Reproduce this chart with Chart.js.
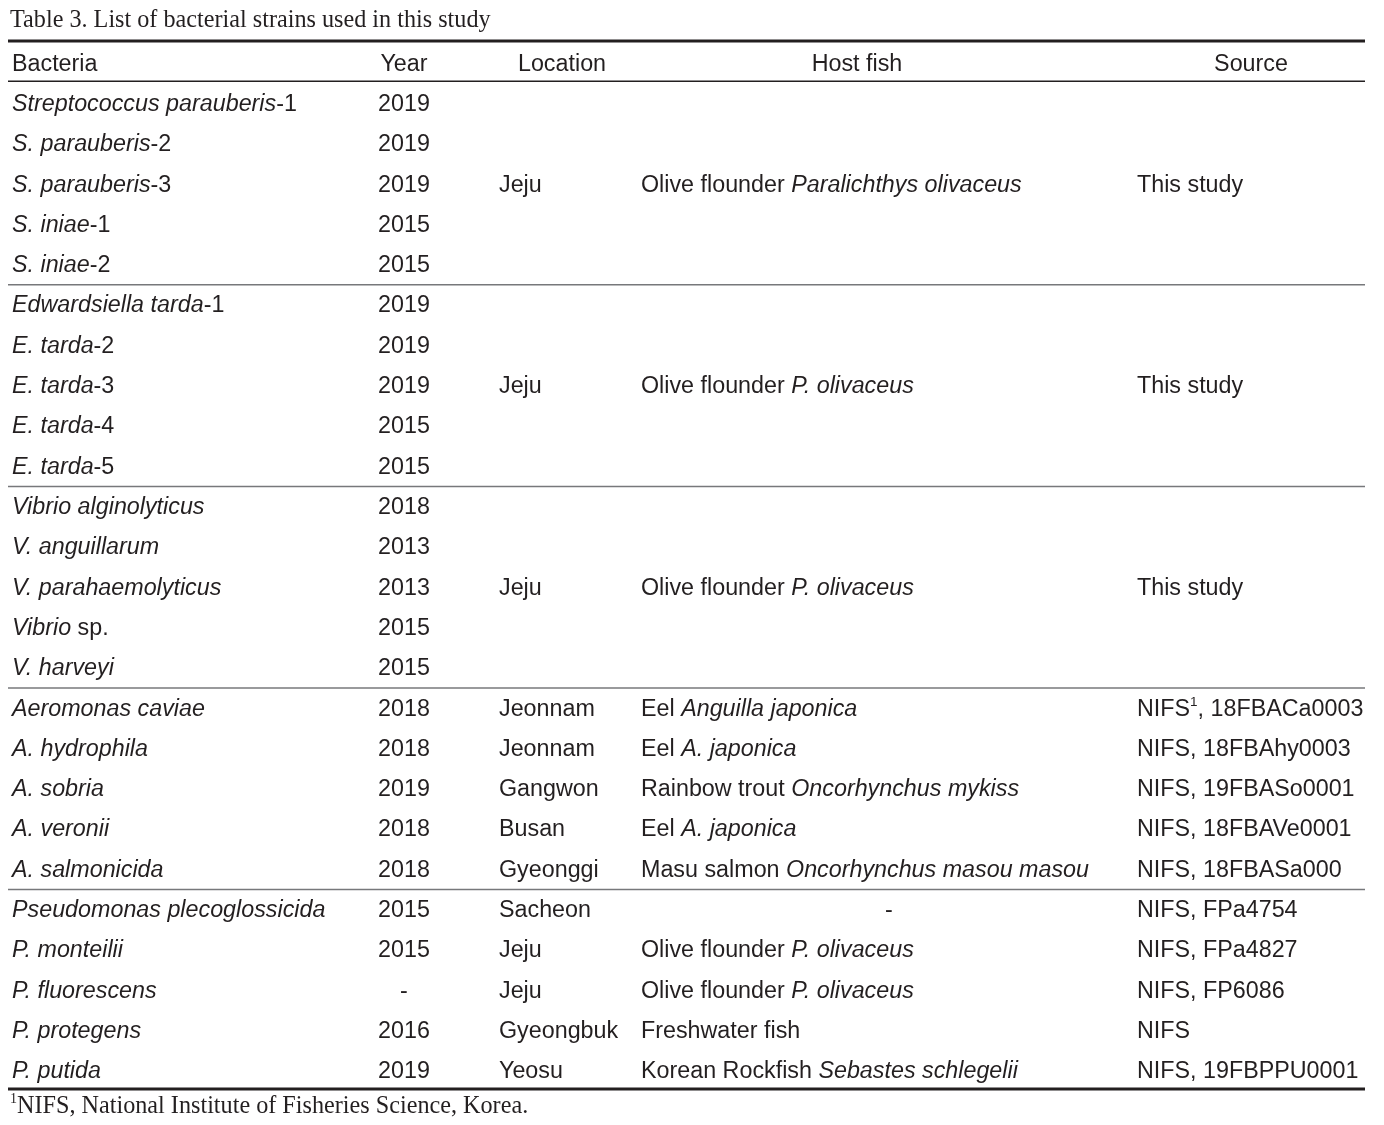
<!DOCTYPE html>
<html>
<head>
    <title>Table 3. List of bacterial strains used in this study</title>
    <meta charset="UTF-8">
    <style>
        body { margin: 0; padding: 0; background: #fff; overflow: hidden; }
        #wrap { position: relative; width: 1384px; height: 1125px; }
    </style>
    <script src="https://cdn.jsdelivr.net/npm/chart.js@4.4.1/dist/chart.umd.min.js"></script>
</head>
<body>
    <div id="wrap"><canvas id="table-chart"></canvas></div>

    <script>
        // Table content (*...* = italic, ^...^ = superscript)
        const headers = ['Bacteria', 'Year', 'Location', 'Host fish', 'Source'];

        const bacteria = [
            '*Streptococcus parauberis*-1', '*S. parauberis*-2', '*S. parauberis*-3', '*S. iniae*-1', '*S. iniae*-2',
            '*Edwardsiella tarda*-1', '*E. tarda*-2', '*E. tarda*-3', '*E. tarda*-4', '*E. tarda*-5',
            '*Vibrio alginolyticus*', '*V. anguillarum*', '*V. parahaemolyticus*', '*Vibrio* sp.', '*V. harveyi*',
            '*Aeromonas caviae*', '*A. hydrophila*', '*A. sobria*', '*A. veronii*', '*A. salmonicida*',
            '*Pseudomonas plecoglossicida*', '*P. monteilii*', '*P. fluorescens*', '*P. protegens*', '*P. putida*'
        ];
        const years = [
            '2019', '2019', '2019', '2015', '2015',
            '2019', '2019', '2019', '2015', '2015',
            '2018', '2013', '2013', '2015', '2015',
            '2018', '2018', '2019', '2018', '2018',
            '2015', '2015', '-', '2016', '2019'
        ];
        const locations = [
            null, null, 'Jeju', null, null,
            null, null, 'Jeju', null, null,
            null, null, 'Jeju', null, null,
            'Jeonnam', 'Jeonnam', 'Gangwon', 'Busan', 'Gyeonggi',
            'Sacheon', 'Jeju', 'Jeju', 'Gyeongbuk', 'Yeosu'
        ];
        const hosts = [
            null, null, 'Olive flounder *Paralichthys olivaceus*', null, null,
            null, null, 'Olive flounder *P. olivaceus*', null, null,
            null, null, 'Olive flounder *P. olivaceus*', null, null,
            'Eel *Anguilla japonica*', 'Eel *A. japonica*', 'Rainbow trout *Oncorhynchus mykiss*', 'Eel *A. japonica*', 'Masu salmon *Oncorhynchus masou masou*',
            '-', 'Olive flounder *P. olivaceus*', 'Olive flounder *P. olivaceus*', 'Freshwater fish', 'Korean Rockfish *Sebastes schlegelii*'
        ];
        const sources = [
            null, null, 'This study', null, null,
            null, null, 'This study', null, null,
            null, null, 'This study', null, null,
            'NIFS^1^, 18FBACa0003', 'NIFS, 18FBAhy0003', 'NIFS, 19FBASo0001', 'NIFS, 18FBAVe0001', 'NIFS, 18FBASa000',
            'NIFS, FPa4754', 'NIFS, FPa4827', 'NIFS, FP6086', 'NIFS', 'NIFS, 19FBPPU0001'
        ];
        const groupBreaks = [4.5, 9.5, 14.5, 19.5];

        const titleText = 'Table 3. List of bacterial strains used in this study';
        const footText = '^1^NIFS, National Institute of Fisheries Science, Korea.';

        // layout: column anchors on the x scale, alignment per column
        const colX = [4, 396, 491, 633, 1129];
        const colAlign = ['left', 'center', 'left', 'left', 'left'];
        const headX = [4, 396, 554, 849, 1243];
        const headAlign = ['left', 'center', 'center', 'center', 'center'];
        const dashHostX = 881;
        const headerRow = -1;
        const headerRule = -0.55;

        const ink = '#231f20';
        const sans = '"Liberation Sans", Arial, sans-serif';
        const serif = '"Liberation Serif", "Times New Roman", serif';
        const cellSize = 23.3;
        const captionSize = 24.2;

        function parseRich(str) {
            const segs = [];
            let cur = '', italic = false, sup = false;
            for (const ch of str) {
                if (ch === '*' || ch === '^') {
                    if (cur) segs.push({ t: cur, italic, sup });
                    cur = '';
                    if (ch === '*') italic = !italic; else sup = !sup;
                } else cur += ch;
            }
            if (cur) segs.push({ t: cur, italic, sup });
            return segs;
        }

        function drawRich(ctx, str, x, y, align, family, size) {
            const segs = parseRich(str);
            const fontOf = s => (s.italic ? 'italic ' : '') + (s.sup ? (size * 0.58).toFixed(1) : size) + 'px ' + family;
            let w = 0;
            segs.forEach(s => { ctx.font = fontOf(s); w += ctx.measureText(s.t).width; });
            let cx = align === 'center' ? x - w / 2 : x;
            ctx.textBaseline = 'middle';
            ctx.textAlign = 'left';
            segs.forEach(s => {
                ctx.font = fontOf(s);
                ctx.fillText(s.t, cx, s.sup ? y - size * 0.3 : y);
                cx += ctx.measureText(s.t).width;
            });
        }

        const columns = [bacteria, years, locations, hosts, sources];

        const datasets = columns.map((col, c) => {
            const pts = [], texts = [];
            col.forEach((txt, i) => {
                if (txt === null) return;
                const isDash = c === 3 && txt === '-';
                pts.push({ x: isDash ? dashHostX : colX[c], y: i });
                texts.push({ txt, align: isDash ? 'center' : colAlign[c] });
            });
            return { label: headers[c], data: pts, texts, pointRadius: 0, showLine: false };
        });
        datasets.push({
            label: 'header',
            data: headers.map((h, c) => ({ x: headX[c], y: headerRow })),
            texts: headers.map((h, c) => ({ txt: h, align: headAlign[c] })),
            pointRadius: 0, showLine: false
        });

        const tablePlugin = {
            id: 'tableText',
            afterDatasetsDraw(chart) {
                const { ctx, chartArea: a, scales: { y } } = chart;
                ctx.save();
                ctx.fillStyle = ink;

                // rules
                const rule = (py, lw, color) => {
                    ctx.beginPath();
                    ctx.lineWidth = lw;
                    ctx.strokeStyle = color;
                    ctx.moveTo(a.left, py);
                    ctx.lineTo(a.right, py);
                    ctx.stroke();
                };
                rule(a.top, 3, ink);
                rule(a.bottom, 3, ink);
                rule(y.getPixelForValue(headerRule), 1.5, ink);
                groupBreaks.forEach(b => rule(y.getPixelForValue(b), 1.5, '#77787b'));

                // cells
                chart.data.datasets.forEach((ds, di) => {
                    const meta = chart.getDatasetMeta(di);
                    meta.data.forEach((pt, i) => {
                        const cell = ds.texts[i];
                        drawRich(ctx, cell.txt, pt.x, pt.y + 1, cell.align, sans, cellSize);
                    });
                });

                // caption and footnote
                drawRich(ctx, titleText, a.left + 2, a.top - 20, 'left', serif, captionSize);
                drawRich(ctx, footText, a.left + 2, a.bottom + 18, 'left', serif, captionSize);
                ctx.restore();
            }
        };

        new Chart(document.getElementById('table-chart'), {
            type: 'scatter',
            data: { datasets },
            options: {
                responsive: true,
                maintainAspectRatio: false,
                animation: false,
                layout: { padding: { left: 8, right: 19, top: 41, bottom: 36 } },
                plugins: { legend: { display: false }, tooltip: { enabled: false } },
                scales: {
                    x: { type: 'linear', min: 0, max: 1357, display: false },
                    y: { type: 'linear', min: -1.55, max: 24.45, reverse: true, display: false }
                }
            },
            plugins: [tablePlugin]
        });
    </script>
</body>
</html>
